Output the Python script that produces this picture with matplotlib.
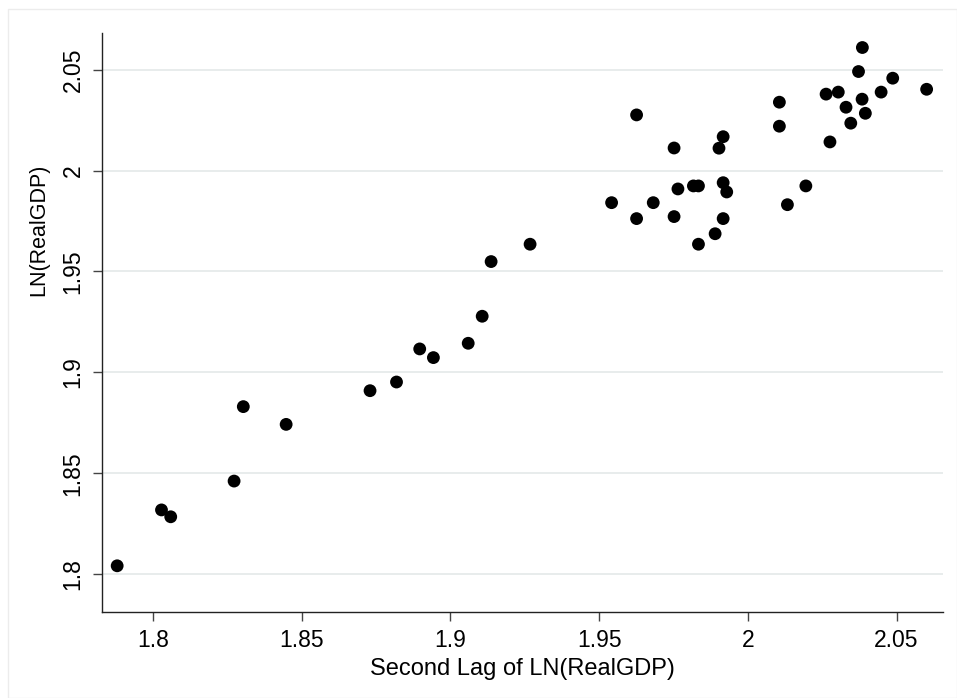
import matplotlib
matplotlib.use("Agg")
import matplotlib.pyplot as plt
from matplotlib.patches import Rectangle

plt.rcParams['font.family'] = ['Liberation Sans', 'DejaVu Sans']

# Second lag of LN(RealGDP)
lag2_ln_gdp = [
    2.0385, 2.0372, 2.0487, 2.0601, 2.0263, 2.0304, 2.0448, 2.0384, 2.0330, 2.0395,
    2.0346, 2.0106, 2.0106, 2.0276, 1.9626, 1.9752, 1.9917, 1.9903, 2.0195, 2.0133,
    1.9917, 1.9929, 1.9817, 1.9834, 1.9765, 1.9682, 1.9542, 1.9626, 1.9752, 1.9917,
    1.9890, 1.9834,
    1.7880, 1.8029, 1.8060, 1.8273, 1.8304, 1.8448, 1.8730,
    1.8819, 1.8897, 1.8943, 1.9060, 1.9107, 1.9137, 1.9268,
]
# LN(RealGDP)
ln_gdp = [
    2.0610, 2.0491, 2.0458, 2.0403, 2.0379, 2.0389, 2.0389, 2.0354, 2.0314, 2.0284,
    2.0235, 2.0339, 2.0220, 2.0142, 2.0276, 2.0112, 2.0168, 2.0111, 1.9924, 1.9831,
    1.9940, 1.9894, 1.9924, 1.9924, 1.9909, 1.9841, 1.9841, 1.9762, 1.9772, 1.9762,
    1.9687, 1.9635,
    1.8041, 1.8318, 1.8284, 1.8461, 1.8830, 1.8742, 1.8909,
    1.8952, 1.9116, 1.9073, 1.9144, 1.9278, 1.9549, 1.9635,
]
x_ticks = [1.8, 1.85, 1.9, 1.95, 2.0, 2.05]
x_tick_labels = ["1.8", "1.85", "1.9", "1.95", "2", "2.05"]
y_ticks = [1.8, 1.85, 1.9, 1.95, 2.0, 2.05]
y_tick_labels = ["1.8", "1.85", "1.9", "1.95", "2", "2.05"]

W, H = 957, 698
fig = plt.figure(figsize=(W / 100, H / 100), dpi=100)
fig.patch.set_facecolor('white')
fig.patches.append(Rectangle((8 / W, 0), 1 - 8 / W, 1 - 9 / H, transform=fig.transFigure,
                             fill=False, edgecolor='#ececec', linewidth=1.0))

ax = fig.add_axes([102 / W, 1 - 612 / H, (943 - 102) / W, (612 - 33.4) / H])
ax.set_facecolor('white')
ax.scatter(lag2_ln_gdp, ln_gdp, s=85, color='black', edgecolors='none', zorder=3)

ax.set_xlim(1.7829, 2.0656)
ax.set_ylim(1.7812, 2.068)
ax.set_xticks(x_ticks)
ax.set_xticklabels(x_tick_labels)
ax.set_yticks(y_ticks)
ax.set_yticklabels(y_tick_labels, rotation=90, va='center')

ax.grid(axis='y', color='#e6ebeb', linewidth=1.3, zorder=0)
ax.grid(axis='x', visible=False)

for side in ['top', 'right']:
    ax.spines[side].set_visible(False)
for side in ['left', 'bottom']:
    ax.spines[side].set_linewidth(1.0)
    ax.spines[side].set_color('#222222')

ax.tick_params(axis='both', length=6.5, width=1.0, color='#444444', labelsize=16.5,
               pad=6)
ax.set_xlabel("Second Lag of LN(RealGDP)", fontsize=17, labelpad=4)
ax.set_ylabel("LN(RealGDP)", fontsize=15.5, labelpad=6)
ax.yaxis.set_label_coords(-0.063, 0.66)

fig.savefig("out.png", dpi=100, facecolor='white')
